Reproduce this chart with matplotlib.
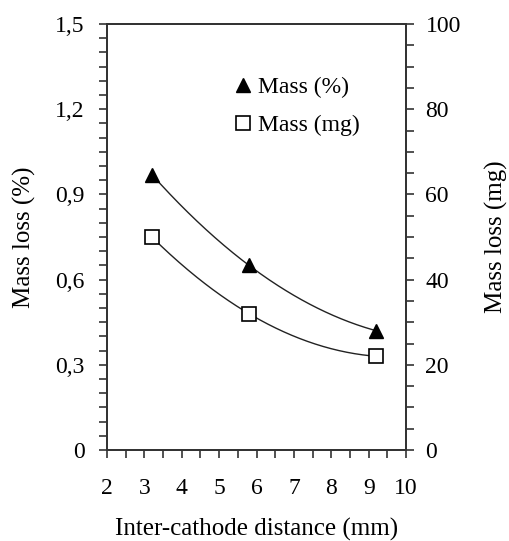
import numpy as np
import matplotlib
matplotlib.use("Agg")
import matplotlib.pyplot as plt
from matplotlib.ticker import MultipleLocator, FuncFormatter
from matplotlib.lines import Line2D

# Data
distance_mm = [3.2, 5.8, 9.2]
mass_loss_pct = [0.97, 0.65, 0.42]
mass_loss_mg = [50, 32, 22]
series_labels = ["Mass (%)", "Mass (mg)"]
x_label = "Inter-cathode distance (mm)"
y_left_label = "Mass loss (%)"
y_right_label = "Mass loss (mg)"

plt.rcParams['font.family'] = ['Liberation Serif', 'DejaVu Serif']
FS_TICK = 17
FS_LAB = 18
FS_LEG = 17
line_col = '#222222'
spine_col = '#333333'

fig = plt.figure(figsize=(5.09, 5.41), dpi=100)
ax = fig.add_axes([107/509, 1-450/541, (406-107)/509, (450-24)/541])
ax2 = ax.twinx()

# Trend curves (2nd-order polynomial fit through the points)
xs = np.linspace(min(distance_mm), max(distance_mm), 200)
c1 = np.polyfit(distance_mm, mass_loss_pct, 2)
c2 = np.polyfit(distance_mm, mass_loss_mg, 2)
ax.plot(xs, np.polyval(c1, xs), color=line_col, lw=1.0, zorder=2)
ax2.plot(xs, np.polyval(c2, xs), color=line_col, lw=1.0, zorder=2)

ax.plot(distance_mm, mass_loss_pct, linestyle='none', marker='^', ms=10.5,
        mfc='black', mec='black', zorder=3)
ax2.plot(distance_mm, mass_loss_mg, linestyle='none', marker='s', ms=10,
         mfc='white', mec='black', mew=1.2, zorder=3)

ax.set_xlim(2, 10)
ax.set_ylim(0, 1.5)
ax2.set_ylim(0, 100)

ax.xaxis.set_major_locator(MultipleLocator(1))
ax.xaxis.set_minor_locator(MultipleLocator(0.5))
ax.yaxis.set_major_locator(MultipleLocator(0.3))
ax.yaxis.set_minor_locator(MultipleLocator(0.05))
ax2.yaxis.set_major_locator(MultipleLocator(20))
ax2.yaxis.set_minor_locator(MultipleLocator(5))

def comma_fmt(v, pos):
    if abs(v) < 1e-9:
        return "0"
    return ("%.1f" % v).replace('.', ',')
ax.yaxis.set_major_formatter(FuncFormatter(comma_fmt))
ax.xaxis.set_major_formatter(FuncFormatter(lambda v, p: "%d" % round(v)))

ax.tick_params(axis='x', which='both', direction='out', length=6, width=1.2,
               color=spine_col, labelsize=FS_TICK, pad=14, top=False)
ax.tick_params(axis='y', which='both', direction='out', length=6, width=1.2,
               color=spine_col, labelsize=FS_TICK, pad=10, right=False)
ax2.tick_params(axis='y', which='both', direction='out', length=6, width=1.2,
                color=spine_col, labelsize=FS_TICK, pad=8)

for a in (ax, ax2):
    for s in a.spines.values():
        s.set_color(spine_col)
        s.set_linewidth(1.3)

ax.set_xlabel(x_label, fontsize=FS_LAB, labelpad=14)
ax.set_ylabel(y_left_label, fontsize=FS_LAB, labelpad=14)
ax2.set_ylabel(y_right_label, fontsize=FS_LAB, labelpad=17, rotation=90)

handles = [Line2D([], [], linestyle='none', marker='^', ms=10.5, mfc='black', mec='black'),
           Line2D([], [], linestyle='none', marker='s', ms=10, mfc='white', mec='black', mew=1.2)]
ax.legend(handles, series_labels, loc='upper left', bbox_to_anchor=(0.383, 0.905),
          frameon=False, fontsize=FS_LEG, handlelength=0.8, handletextpad=0.25,
          labelspacing=0.7, borderpad=0)

fig.savefig("out.png", dpi=100)
